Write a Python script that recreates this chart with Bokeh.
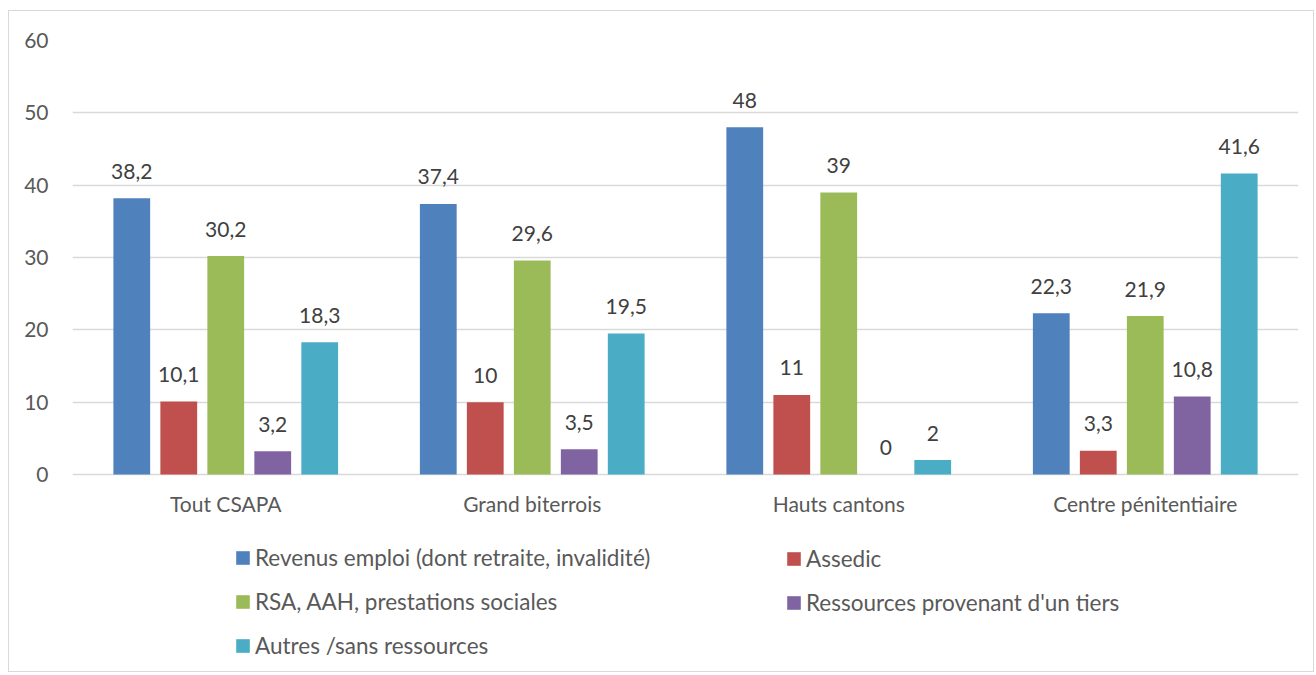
from bokeh.plotting import figure
from bokeh.models import ColumnDataSource, FactorRange, Legend, LegendItem
from bokeh.transform import dodge
from bokeh.core.properties import value
from bokeh.embed import file_html
from bokeh.resources import INLINE

categories = ["Tout CSAPA", "Grand biterrois", "Hauts cantons", "Centre pénitentiaire"]
series_names = [
    "Revenus emploi (dont retraite, invalidité)",
    "Assedic",
    "RSA, AAH, prestations sociales",
    "Ressources provenant d'un tiers",
    "Autres /sans ressources",
]
revenus = [38.2, 37.4, 48, 22.3]
assedic = [10.1, 10, 11, 3.3]
rsa = [30.2, 29.6, 39, 21.9]
tiers = [3.2, 3.5, 0, 10.8]
autres = [18.3, 19.5, 2, 41.6]
y_ticks = [0, 10, 20, 30, 40, 50, 60]

colors = ["#4F81BD", "#C0504D", "#9BBB59", "#8064A2", "#4BACC6"]
series = [revenus, assedic, rsa, tiers, autres]

FONT = "Lato"
FS = "21px"

p = figure(
    x_range=FactorRange(factors=categories, range_padding=0),
    y_range=(-27.51, 60),
    width=1306, height=662,
    output_backend="svg", toolbar_location=None,
    min_border_left=63, min_border_top=29, min_border_right=17, min_border_bottom=0,
)
p.styles = {"border": "1px solid #d9d9d9", "margin-left": "8px", "margin-top": "10px"}
p.outline_line_color = None
p.background_fill_color = "white"
p.xaxis.visible = False

step = 0.1533
bw = 0.12
renderers = []
for i, (name, vals, col) in enumerate(zip(series_names, series, colors)):
    src = ColumnDataSource(dict(
        cat=categories, v=vals,
        lab=[f"{v:g}".replace(".", ",") for v in vals],
    ))
    off = (i - 2) * step
    r = p.vbar(x=dodge("cat", off, range=p.x_range), top="v", width=bw, source=src,
               fill_color=col, line_color=None)
    renderers.append(r)
    p.text(x=dodge("cat", off, range=p.x_range), y="v", text="lab", source=src,
           text_align="center", text_baseline="alphabetic", y_offset=-27,
           text_font=value(FONT), text_font_size=FS, text_color="#404040")

# category labels under the zero line
cat_src = ColumnDataSource(dict(cat=categories, y=[0] * len(categories)))
p.text(x="cat", y="y", text="cat", source=cat_src,
       text_align="center", text_baseline="alphabetic", y_offset=29,
       text_font=value(FONT), text_font_size=FS, text_color="#595959")

p.yaxis.ticker = y_ticks
p.yaxis.axis_line_color = None
p.yaxis.major_tick_line_color = None
p.yaxis.minor_tick_line_color = None
p.yaxis.major_label_standoff = 18
p.yaxis.major_label_text_font = FONT
p.yaxis.major_label_text_font_size = FS
p.yaxis.major_label_text_color = "#595959"

p.xgrid.grid_line_color = None
p.ygrid.ticker = y_ticks
p.ygrid.grid_line_color = "#d9d9d9"
p.ygrid.grid_line_width = 1.5

def make_legend(idx, loc):
    lg = Legend(
        items=[LegendItem(label=series_names[k], renderers=[renderers[k]]) for k in idx],
        location=loc, orientation="vertical",
        glyph_width=17, glyph_height=17, label_height=17, label_standoff=4,
        spacing=17, padding=0, margin=0,
        border_line_color=None, background_fill_alpha=0,
        label_text_font=FONT, label_text_font_size="22.5px", label_text_color="#595959",
    )
    p.add_layout(lg, "center")
    return lg

make_legend([0, 2, 4], (162, 14))
make_legend([1, 3], (713, 57))

open("out.html", "w").write(file_html(p, INLINE))
